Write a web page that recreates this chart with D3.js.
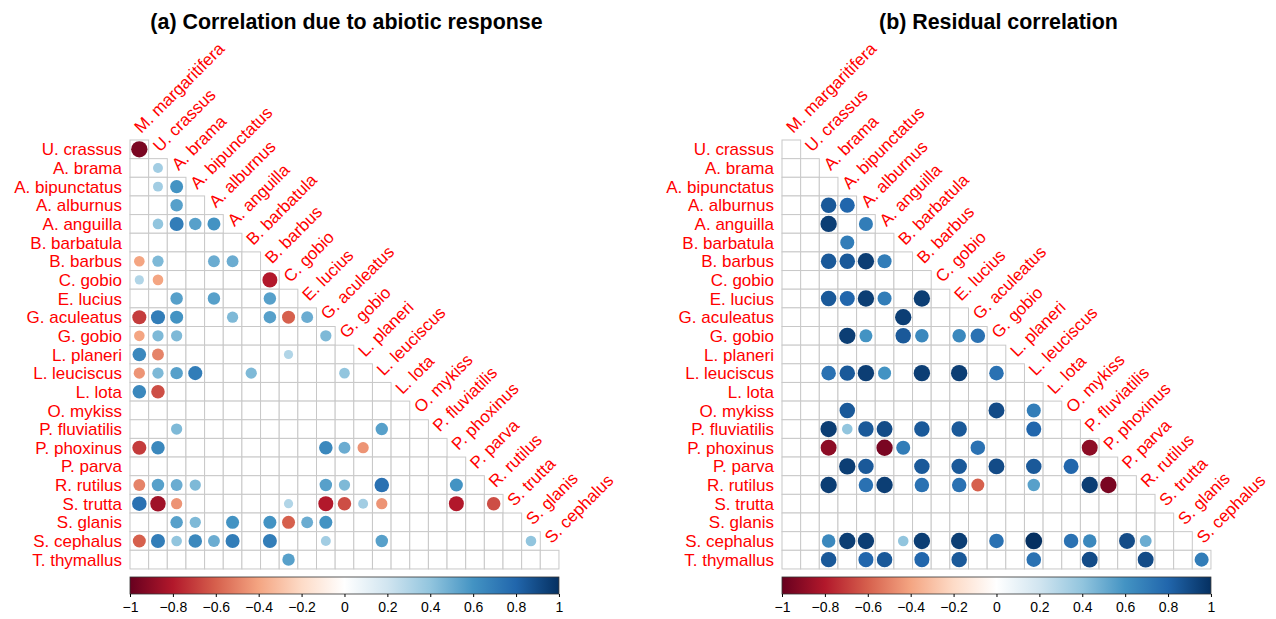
<!DOCTYPE html>
<html>
<head>
<meta charset="utf-8">
<script src="https://cdn.jsdelivr.net/npm/d3@7"></script>
<style>
  html, body { margin: 0; padding: 0; background: #fff; }
  svg { display: block; font-family: "Liberation Sans", Arial, Helvetica, sans-serif; }
</style>
</head>
<body>
<svg id="chart" width="1276" height="619"></svg>
<script>
// Species in matrix order
const species = [
  "M. margaritifera", "U. crassus", "A. brama", "A. bipunctatus", "A. alburnus",
  "A. anguilla", "B. barbatula", "B. barbus", "C. gobio", "E. lucius",
  "G. aculeatus", "G. gobio", "L. planeri", "L. leuciscus", "L. lota",
  "O. mykiss", "P. fluviatilis", "P. phoxinus", "P. parva", "R. rutilus",
  "S. trutta", "S. glanis", "S. cephalus", "T. thymallus"
];
const rowNames = species.slice(1);
const colNames = species.slice(0, species.length - 1);

// Significant correlations: [row index, column index, r]
const abioticCorr = [
  [0,0,-0.95],
  [1,1,0.35],
  [2,1,0.35],[2,2,0.6],
  [3,2,0.55],
  [4,1,0.4],[4,2,0.7],[4,3,0.55],[4,4,0.6],
  [6,0,-0.4],[6,1,0.45],[6,4,0.5],[6,5,0.5],
  [7,0,0.3],[7,1,-0.4],[7,7,-0.8],
  [8,2,0.55],[8,4,0.55],[8,7,0.55],
  [9,0,-0.7],[9,1,0.7],[9,2,0.6],[9,5,0.45],[9,7,0.55],[9,8,-0.6],[9,9,0.5],
  [10,0,-0.4],[10,1,0.45],[10,2,0.45],[10,10,0.45],
  [11,0,0.65],[11,1,-0.5],[11,8,0.3],
  [12,0,-0.45],[12,1,0.45],[12,2,0.55],[12,3,0.7],[12,6,0.45],[12,11,0.4],
  [13,0,0.65],[13,1,-0.65],
  [15,2,0.45],[15,13,0.55],
  [16,0,-0.7],[16,1,0.65],[16,10,0.65],[16,11,0.5],[16,12,-0.45],
  [18,0,-0.5],[18,1,0.55],[18,2,0.5],[18,3,0.45],[18,10,0.55],[18,11,0.45],[18,13,0.75],[18,17,0.6],
  [19,0,0.75],[19,1,-0.85],[19,2,-0.45],[19,8,0.3],[19,10,-0.8],[19,11,-0.65],[19,12,0.35],[19,13,-0.45],[19,17,-0.8],[19,19,-0.65],
  [20,2,0.55],[20,3,0.45],[20,5,0.6],[20,7,0.6],[20,8,-0.6],[20,9,0.5],[20,10,0.6],
  [21,0,-0.6],[21,1,0.7],[21,2,0.4],[21,3,0.65],[21,4,0.5],[21,5,0.7],[21,7,0.7],[21,10,0.35],[21,13,0.55],[21,21,0.4],
  [22,8,0.55]
];

const residualCorr = [
  [3,2,0.85],[3,3,0.8],
  [4,2,0.95],[4,4,0.7],
  [5,3,0.7],
  [6,2,0.85],[6,3,0.85],[6,4,0.95],[6,5,0.7],
  [8,2,0.85],[8,3,0.8],[8,4,0.95],[8,5,0.7],[8,7,0.95],
  [9,6,0.95],
  [10,3,0.95],[10,4,0.6],[10,6,0.85],[10,7,0.65],[10,9,0.65],[10,10,0.75],
  [12,2,0.75],[12,3,0.85],[12,4,0.95],[12,5,0.6],[12,7,0.95],[12,9,0.95],[12,11,0.75],
  [14,3,0.85],[14,11,0.9],[14,13,0.7],
  [15,2,0.95],[15,3,0.4],[15,4,0.85],[15,5,0.9],[15,7,0.85],[15,9,0.85],[15,13,0.8],
  [16,2,-0.9],[16,5,-0.95],[16,6,0.7],[16,10,0.75],[16,16,-0.9],
  [17,3,0.95],[17,4,0.85],[17,7,0.85],[17,9,0.85],[17,11,0.9],[17,13,0.85],[17,15,0.8],
  [18,2,0.95],[18,4,0.75],[18,5,0.95],[18,7,0.75],[18,9,0.75],[18,10,-0.6],[18,13,0.55],[18,16,0.95],[18,17,-0.95],
  [21,2,0.65],[21,3,0.95],[21,4,0.95],[21,6,0.4],[21,7,0.95],[21,9,0.95],[21,11,0.75],[21,13,1.0],[21,15,0.75],[21,16,0.65],[21,18,0.9],[21,19,0.5],
  [22,2,0.85],[22,4,0.8],[22,5,0.85],[22,7,0.8],[22,9,0.85],[22,13,0.75],[22,16,0.9],[22,19,0.9],[22,22,0.7]
];

const panelTitles = ["(a) Correlation due to abiotic response", "(b) Residual correlation"];
const legendTicks = [-1, -0.8, -0.6, -0.4, -0.2, 0, 0.2, 0.4, 0.6, 0.8, 1];
const paletteStops = ["#67001F", "#B2182B", "#D6604D", "#F4A582", "#FDDBC7", "#FFFFFF",
                      "#D1E5F0", "#92C5DE", "#4393C3", "#2166AC", "#053061"];

const color = d3.scaleLinear()
  .domain(d3.range(paletteStops.length).map(i => -1 + 2 * i / (paletteStops.length - 1)))
  .range(paletteStops)
  .interpolate(d3.interpolateRgb);

const svg = d3.select("#chart");
const cell = 18.65;
const gridTop = 140;
const n = rowNames.length;
const labelSize = 17;

function drawPanel(x0, data, title, idx) {
  const g = svg.append("g");
  const x = d3.scaleBand().domain(d3.range(n)).range([x0, x0 + n * cell]);
  const y = d3.scaleBand().domain(d3.range(n)).range([gridTop, gridTop + n * cell]);

  // title
  g.append("text")
    .attr("x", x0 + n * cell / 2 + 2)
    .attr("y", 28.5)
    .attr("text-anchor", "middle")
    .attr("font-weight", "bold")
    .attr("font-size", 21.4)
    .attr("fill", "#000")
    .text(title);

  // lower-triangle grid
  const cells = [];
  for (let i = 0; i < n; i++) for (let j = 0; j <= i; j++) cells.push([i, j]);
  g.append("g").selectAll("rect").data(cells).join("rect")
    .attr("x", d => x(d[1]))
    .attr("y", d => y(d[0]))
    .attr("width", x.bandwidth())
    .attr("height", y.bandwidth())
    .attr("fill", "#fff")
    .attr("stroke", "#c8c8c8")
    .attr("stroke-width", 1);

  // circles: area proportional to |r|
  g.append("g").selectAll("circle").data(data).join("circle")
    .attr("cx", d => x(d[1]) + x.bandwidth() / 2)
    .attr("cy", d => y(d[0]) + y.bandwidth() / 2)
    .attr("r", d => 0.45 * Math.sqrt(Math.abs(d[2])) * cell)
    .attr("fill", d => color(d[2]));

  // row labels
  g.append("g").selectAll("text").data(rowNames).join("text")
    .attr("x", x0 - 8)
    .attr("y", (d, i) => y(i) + y.bandwidth() / 2)
    .attr("dy", "0.36em")
    .attr("text-anchor", "end")
    .attr("font-size", labelSize)
    .attr("fill", "#FF0000")
    .text(d => d);

  // column labels, rotated along the diagonal
  g.append("g").selectAll("text").data(colNames).join("text")
    .attr("transform", (d, j) => `translate(${x(j) + x.bandwidth() / 2 + 2},${y(j) - 6}) rotate(-45)`)
    .attr("font-size", labelSize)
    .attr("fill", "#FF0000")
    .text(d => d);

  // colour legend
  const lx = d3.scaleLinear().domain([-1, 1]).range([x0, x0 + n * cell]);
  const gradId = "grad" + idx;
  const grad = svg.append("defs").append("linearGradient").attr("id", gradId)
    .attr("x1", "0%").attr("x2", "100%");
  paletteStops.forEach((c, k) => {
    grad.append("stop").attr("offset", (100 * k / (paletteStops.length - 1)) + "%").attr("stop-color", c);
  });
  const barTop = 577, barH = 17;
  g.append("rect")
    .attr("x", lx(-1)).attr("y", barTop)
    .attr("width", lx(1) - lx(-1)).attr("height", barH)
    .attr("fill", `url(#${gradId})`)
    .attr("stroke", "#333").attr("stroke-width", 0.8);
  const axis = d3.axisBottom(lx).tickValues(legendTicks).tickSize(3).tickFormat(d3.format("~g"));
  const ag = g.append("g").attr("transform", `translate(0,${barTop + barH})`).call(axis);
  ag.select(".domain").remove();
  ag.selectAll("text").attr("font-size", 14).attr("font-family", "Liberation Sans, Arial, sans-serif").attr("fill", "#000").attr("dy", "0.85em");
  ag.selectAll("line").attr("stroke", "#000");
}

drawPanel(130, abioticCorr, panelTitles[0], 0);
drawPanel(782, residualCorr, panelTitles[1], 1);
</script>
</body>
</html>
